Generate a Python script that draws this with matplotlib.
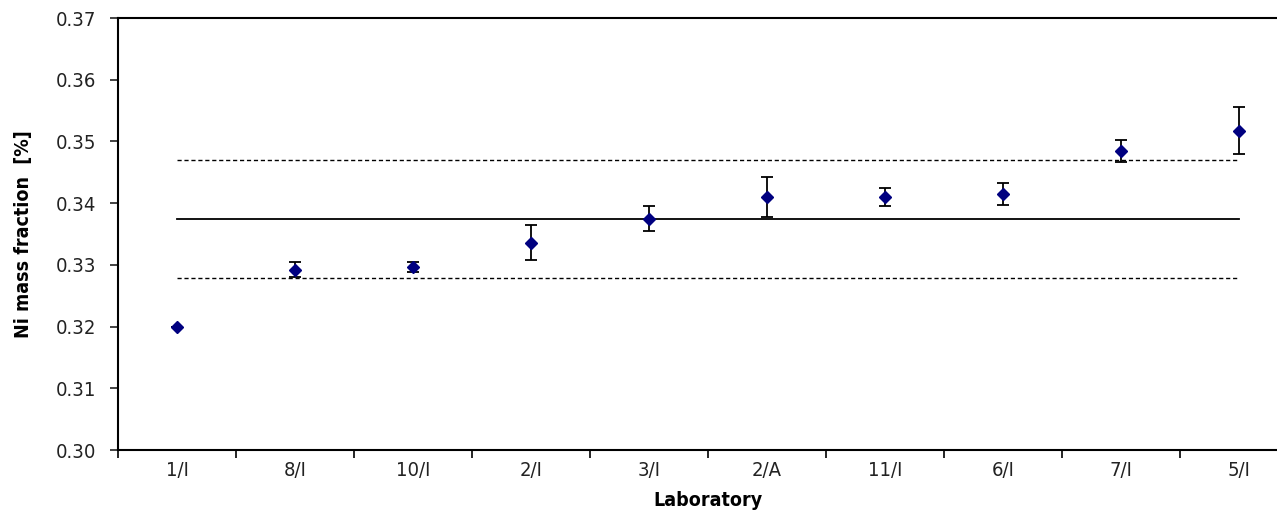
import numpy as np
import matplotlib.pyplot as plt

plt.rcParams['font.family'] = ['DejaVu Sans']
plt.rcParams['font.stretch'] = 'condensed'

labs = ['1/I', '8/I', '10/I', '2/I', '3/I', '2/A', '11/I', '6/I', '7/I', '5/I']
vals = [0.3199, 0.3292, 0.3297, 0.3336, 0.3375, 0.3410, 0.3410, 0.3415, 0.3485, 0.3517]
errs = [0.0, 0.0012, 0.0008, 0.0028, 0.0020, 0.0032, 0.0015, 0.00175, 0.0018, 0.0038]

ref_mean = 0.3374
ref_low = 0.3278
ref_high = 0.3470

fig = plt.figure(figsize=(12.77, 5.24), dpi=100)
ax = fig.add_axes([118 / 1277, 74 / 524, 1180 / 1277, 432 / 524])

x = np.arange(len(labs)) + 0.5
ax.plot([x[0], x[-1]], [ref_mean, ref_mean], c='black', lw=1.3)
ax.plot([x[0], x[-1]], [ref_low, ref_low], c='black', lw=1.0, ls=(0, (3, 2)))
ax.plot([x[0], x[-1]], [ref_high, ref_high], c='black', lw=1.0, ls=(0, (3, 2)))

ax.errorbar(x, vals, yerr=errs, fmt='D', color='#000080', ms=6,
            ecolor='black', elinewidth=1.3, capsize=4, capthick=1.3, zorder=3)

ax.set_xlim(0, len(labs))
ax.set_ylim(0.30, 0.37)
ax.set_xticks(np.arange(len(labs) + 1))
ax.set_xticklabels([])
ax.set_xticks(x, minor=True)
ax.set_xticklabels(labs, minor=True)
ax.tick_params(axis='x', which='minor', length=0, pad=8, labelsize=14.5, colors='#222222')
ax.tick_params(axis='x', which='major', length=6, direction='out', width=1.2)
ax.set_yticks(np.arange(0.30, 0.371, 0.01))
ax.set_yticklabels(['%.2f' % v for v in np.arange(0.30, 0.371, 0.01)])
ax.tick_params(axis='y', length=6, width=1.2, pad=10, labelsize=14.5, colors='#222222')

for s in ['left', 'bottom', 'top']:
    ax.spines[s].set_linewidth(1.5)
ax.spines['right'].set_visible(False)

ax.set_xlabel('Laboratory', fontsize=14, fontweight='bold', labelpad=8)
ax.set_ylabel('Ni mass fraction  [%]', fontsize=14, fontweight='bold', labelpad=16)

fig.savefig('out.png', dpi=100)
